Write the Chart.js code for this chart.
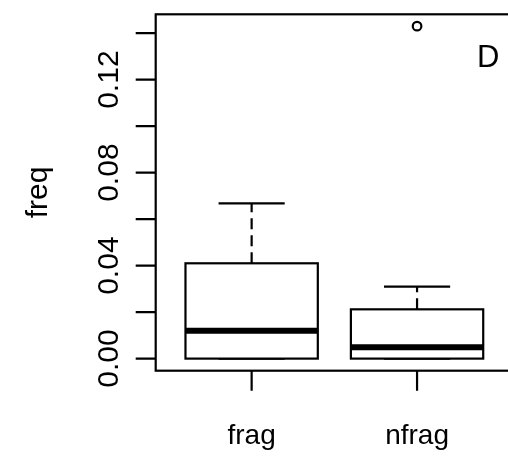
<!DOCTYPE html>
<html><head><meta charset="utf-8">
<script src="https://cdn.jsdelivr.net/npm/chart.js@4"></script>
<style>
html,body{margin:0;padding:0;overflow:hidden;background:#fff;width:508px;height:458px}
#wrap{position:absolute;left:0;top:0;width:520px;height:458px}
</style></head><body><div id="wrap"><canvas id="c" width="520" height="458"></canvas></div>
<script>
// ---- data ----
const categories = ['frag', 'nfrag'];
const lowerWhisker = [0, 0];
const q1 = [0, 0];
const median = [0.0120, 0.0049];
const q3 = [0.0410, 0.0212];
const upperWhisker = [0.0668, 0.0310];
const outliers = [[], [0.143]];
const yTicks = [0, 0.02, 0.04, 0.06, 0.08, 0.10, 0.12, 0.14];
const yTickLabels = ['0.00', '', '0.04', '', '0.08', '', '0.12', ''];
const yTitle = 'freq';
const panelLabel = 'D';

const FONT = '"Liberation Sans", Arial, Helvetica, sans-serif';
const LW = 2.2;

const outlierPoints = [];
outliers.forEach((arr, i) => arr.forEach(v => outlierPoints.push({x: i + 1, y: v})));

const boxPlugin = {
  id: 'rbox',
  beforeDatasetsDraw(chart) {
    const ctx = chart.ctx, xs = chart.scales.x, ys = chart.scales.y;
    ctx.save();
    ctx.strokeStyle = '#000';
    categories.forEach((c, i) => {
      const cx = xs.getPixelForValue(i + 1);
      const hw = xs.getPixelForValue(i + 1 + 0.4) - cx;
      const yq1 = ys.getPixelForValue(q1[i]);
      const yq3 = ys.getPixelForValue(q3[i]);
      const ym = ys.getPixelForValue(median[i]);
      const ylo = ys.getPixelForValue(lowerWhisker[i]);
      const yhi = ys.getPixelForValue(upperWhisker[i]);
      // whiskers (dashed)
      ctx.lineWidth = LW;
      ctx.setLineDash([11, 6]);
      ctx.beginPath();
      ctx.moveTo(cx, yq3); ctx.lineTo(cx, yhi);
      if (ylo !== yq1) { ctx.moveTo(cx, yq1); ctx.lineTo(cx, ylo); }
      ctx.stroke();
      ctx.setLineDash([]);
      // staples
      ctx.beginPath();
      ctx.moveTo(cx - hw / 2, yhi); ctx.lineTo(cx + hw / 2, yhi);
      ctx.moveTo(cx - hw / 2, ylo); ctx.lineTo(cx + hw / 2, ylo);
      ctx.stroke();
      // box
      ctx.fillStyle = '#fff';
      ctx.fillRect(cx - hw, yq3, 2 * hw, yq1 - yq3);
      ctx.strokeRect(cx - hw, yq3, 2 * hw, yq1 - yq3);
      // median
      ctx.lineWidth = 6;
      ctx.lineCap = 'butt';
      ctx.beginPath();
      ctx.moveTo(cx - hw, ym); ctx.lineTo(cx + hw, ym);
      ctx.stroke();
    });
    ctx.restore();
  },
  afterDraw(chart) {
    const ctx = chart.ctx, xs = chart.scales.x, ys = chart.scales.y;
    const a = chart.chartArea;
    ctx.save();
    ctx.strokeStyle = '#000';
    ctx.fillStyle = '#000';
    ctx.lineWidth = LW;
    // frame
    ctx.strokeRect(a.left, a.top, a.right - a.left, a.bottom - a.top);
    // y ticks
    ctx.beginPath();
    yTicks.forEach(v => {
      const y = ys.getPixelForValue(v);
      ctx.moveTo(a.left - 20, y); ctx.lineTo(a.left, y);
    });
    // x ticks
    categories.forEach((c, i) => {
      const x = xs.getPixelForValue(i + 1);
      ctx.moveTo(x, a.bottom); ctx.lineTo(x, a.bottom + 20);
    });
    ctx.stroke();
    // y tick labels (rotated)
    ctx.font = '30px ' + FONT;
    ctx.textAlign = 'center';
    ctx.textBaseline = 'alphabetic';
    yTicks.forEach((v, k) => {
      if (!yTickLabels[k]) return;
      const y = ys.getPixelForValue(v);
      ctx.save();
      ctx.translate(117.5, y);
      ctx.rotate(-Math.PI / 2);
      ctx.fillText(yTickLabels[k], 0, 0);
      ctx.restore();
    });
    // y title
    ctx.save();
    ctx.translate(47, (a.top + a.bottom) / 2);
    ctx.rotate(-Math.PI / 2);
    ctx.fillText(yTitle, 0, 0);
    ctx.restore();
    // x labels
    ctx.font = '28px ' + FONT;
    categories.forEach((c, i) => {
      ctx.fillText(c, xs.getPixelForValue(i + 1), 444);
    });
    // panel label
    ctx.font = '31px ' + FONT;
    ctx.textAlign = 'left';
    ctx.fillText(panelLabel, 477, 67);
    ctx.restore();
  }
};

new Chart(document.getElementById('c'), {
  type: 'scatter',
  data: {
    datasets: [{
      data: outlierPoints,
      pointRadius: 4.3,
      pointBorderWidth: 2.2,
      pointBorderColor: '#000',
      pointBackgroundColor: '#fff'
    }]
  },
  options: {
    responsive: false,
    animation: false,
    layout: {padding: {left: 155.7, top: 14.3, right: 7, bottom: 87.3}},
    plugins: {legend: {display: false}, tooltip: {enabled: false}},
    scales: {
      x: {type: 'linear', min: 0.42, max: 2.58, display: false},
      y: {type: 'linear', min: -0.0052, max: 0.1481, display: false}
    }
  },
  plugins: [boxPlugin]
});
</script></body></html>
